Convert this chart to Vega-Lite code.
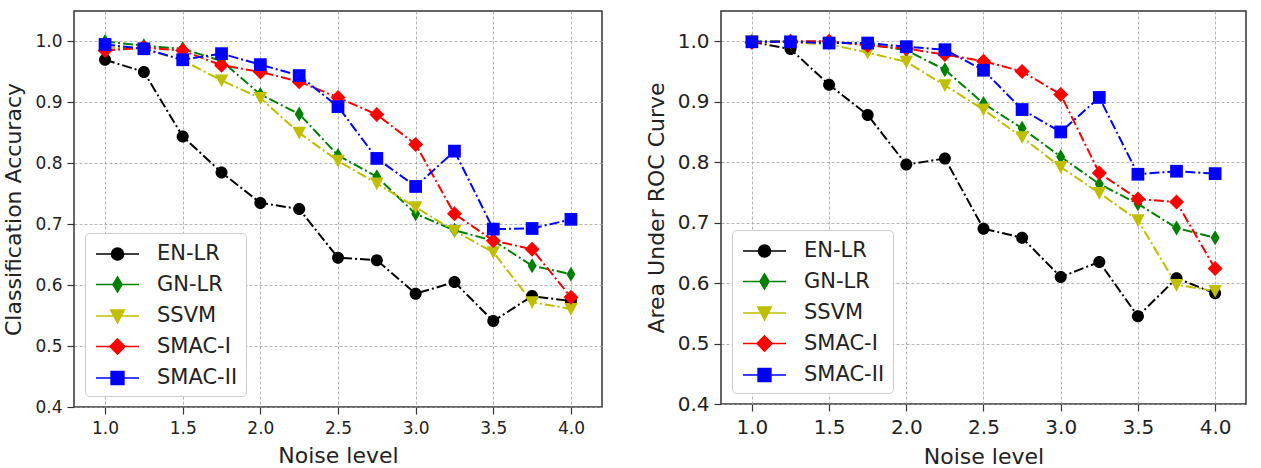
{
  "$schema": "https://vega.github.io/schema/vega-lite/v6.json",
  "background": "white",
  "padding": {"left": 2, "top": 10, "right": 0, "bottom": 0},
  "config": {
    "font": "DejaVu Sans",
    "view": {"stroke": "#333333", "strokeWidth": 1.5},
    "axis": {
      "domain": false, "grid": true, "gridColor": "#a0a0a0", "gridDash": [3, 2], "gridWidth": 0.8,
      "tickColor": "#333333", "tickSize": 7, "tickWidth": 1.2,
      "labelColor": "#222222", "titleColor": "#222222", "titleFontWeight": "normal",
      "labelFont": "DejaVu Sans", "titleFont": "DejaVu Sans"
    },
    "legend": {"orient": "bottom-left", "offset": 11, "padding": 8, "fillColor": "white", "strokeColor": "#cccccc", "cornerRadius": 4, "symbolSize": 576, "symbolStrokeWidth": 1.6, "labelFontSize": 21, "labelFont": "DejaVu Sans", "labelColor": "#222222", "labelOffset": 38, "rowPadding": 7.5}
  },
  "data": {"values": [
    {"m": "EN-LR", "n": 1.0, "acc": 0.970, "auc": 0.999},
    {"m": "EN-LR", "n": 1.25, "acc": 0.950, "auc": 0.987},
    {"m": "EN-LR", "n": 1.5, "acc": 0.844, "auc": 0.928},
    {"m": "EN-LR", "n": 1.75, "acc": 0.785, "auc": 0.878},
    {"m": "EN-LR", "n": 2.0, "acc": 0.735, "auc": 0.796},
    {"m": "EN-LR", "n": 2.25, "acc": 0.725, "auc": 0.806},
    {"m": "EN-LR", "n": 2.5, "acc": 0.645, "auc": 0.690},
    {"m": "EN-LR", "n": 2.75, "acc": 0.641, "auc": 0.675},
    {"m": "EN-LR", "n": 3.0, "acc": 0.586, "auc": 0.610},
    {"m": "EN-LR", "n": 3.25, "acc": 0.605, "auc": 0.635},
    {"m": "EN-LR", "n": 3.5, "acc": 0.541, "auc": 0.545},
    {"m": "EN-LR", "n": 3.75, "acc": 0.582, "auc": 0.608},
    {"m": "EN-LR", "n": 4.0, "acc": 0.574, "auc": 0.583},
    {"m": "GN-LR", "n": 1.0, "acc": 1.000, "auc": 1.000},
    {"m": "GN-LR", "n": 1.25, "acc": 0.993, "auc": 1.000},
    {"m": "GN-LR", "n": 1.5, "acc": 0.988, "auc": 0.999},
    {"m": "GN-LR", "n": 1.75, "acc": 0.968, "auc": 0.995},
    {"m": "GN-LR", "n": 2.0, "acc": 0.913, "auc": 0.985},
    {"m": "GN-LR", "n": 2.25, "acc": 0.881, "auc": 0.953},
    {"m": "GN-LR", "n": 2.5, "acc": 0.813, "auc": 0.897},
    {"m": "GN-LR", "n": 2.75, "acc": 0.778, "auc": 0.856},
    {"m": "GN-LR", "n": 3.0, "acc": 0.717, "auc": 0.809},
    {"m": "GN-LR", "n": 3.25, "acc": 0.690, "auc": 0.764},
    {"m": "GN-LR", "n": 3.5, "acc": 0.673, "auc": 0.731},
    {"m": "GN-LR", "n": 3.75, "acc": 0.632, "auc": 0.691},
    {"m": "GN-LR", "n": 4.0, "acc": 0.618, "auc": 0.675},
    {"m": "SSVM", "n": 1.0, "acc": 0.990, "auc": 1.000},
    {"m": "SSVM", "n": 1.25, "acc": 0.988, "auc": 0.998},
    {"m": "SSVM", "n": 1.5, "acc": 0.969, "auc": 0.995},
    {"m": "SSVM", "n": 1.75, "acc": 0.936, "auc": 0.981},
    {"m": "SSVM", "n": 2.0, "acc": 0.907, "auc": 0.966},
    {"m": "SSVM", "n": 2.25, "acc": 0.850, "auc": 0.927},
    {"m": "SSVM", "n": 2.5, "acc": 0.804, "auc": 0.887},
    {"m": "SSVM", "n": 2.75, "acc": 0.767, "auc": 0.841},
    {"m": "SSVM", "n": 3.0, "acc": 0.728, "auc": 0.792},
    {"m": "SSVM", "n": 3.25, "acc": 0.689, "auc": 0.749},
    {"m": "SSVM", "n": 3.5, "acc": 0.654, "auc": 0.704},
    {"m": "SSVM", "n": 3.75, "acc": 0.572, "auc": 0.597},
    {"m": "SSVM", "n": 4.0, "acc": 0.561, "auc": 0.587},
    {"m": "SMAC-I", "n": 1.0, "acc": 0.985, "auc": 0.998},
    {"m": "SMAC-I", "n": 1.25, "acc": 0.990, "auc": 1.000},
    {"m": "SMAC-I", "n": 1.5, "acc": 0.985, "auc": 1.000},
    {"m": "SMAC-I", "n": 1.75, "acc": 0.961, "auc": 0.993},
    {"m": "SMAC-I", "n": 2.0, "acc": 0.950, "auc": 0.988},
    {"m": "SMAC-I", "n": 2.25, "acc": 0.934, "auc": 0.978},
    {"m": "SMAC-I", "n": 2.5, "acc": 0.908, "auc": 0.967},
    {"m": "SMAC-I", "n": 2.75, "acc": 0.880, "auc": 0.950},
    {"m": "SMAC-I", "n": 3.0, "acc": 0.831, "auc": 0.912},
    {"m": "SMAC-I", "n": 3.25, "acc": 0.717, "auc": 0.782},
    {"m": "SMAC-I", "n": 3.5, "acc": 0.673, "auc": 0.739},
    {"m": "SMAC-I", "n": 3.75, "acc": 0.659, "auc": 0.734},
    {"m": "SMAC-I", "n": 4.0, "acc": 0.580, "auc": 0.624},
    {"m": "SMAC-II", "n": 1.0, "acc": 0.995, "auc": 0.999},
    {"m": "SMAC-II", "n": 1.25, "acc": 0.988, "auc": 0.999},
    {"m": "SMAC-II", "n": 1.5, "acc": 0.970, "auc": 0.997},
    {"m": "SMAC-II", "n": 1.75, "acc": 0.980, "auc": 0.997},
    {"m": "SMAC-II", "n": 2.0, "acc": 0.962, "auc": 0.991},
    {"m": "SMAC-II", "n": 2.25, "acc": 0.944, "auc": 0.986},
    {"m": "SMAC-II", "n": 2.5, "acc": 0.893, "auc": 0.952},
    {"m": "SMAC-II", "n": 2.75, "acc": 0.808, "auc": 0.887},
    {"m": "SMAC-II", "n": 3.0, "acc": 0.762, "auc": 0.850},
    {"m": "SMAC-II", "n": 3.25, "acc": 0.820, "auc": 0.907},
    {"m": "SMAC-II", "n": 3.5, "acc": 0.692, "auc": 0.780},
    {"m": "SMAC-II", "n": 3.75, "acc": 0.693, "auc": 0.785},
    {"m": "SMAC-II", "n": 4.0, "acc": 0.708, "auc": 0.781}
  ]},
  "spacing": 119,
  "bounds": "flush",
  "resolve": {"scale": {"color": "independent", "fill": "independent", "stroke": "independent", "shape": "independent", "x": "independent", "y": "independent"}, "legend": {"color": "independent", "fill": "independent", "stroke": "independent", "shape": "independent"}},
  "hconcat": [
    {
      "width": 528, "height": 396,
      "encoding": {
        "x": {"field": "n", "type": "quantitative", "scale": {"domain": [0.8, 4.2], "nice": false, "zero": false},
              "axis": {"title": "Noise level", "values": [1, 1.5, 2, 2.5, 3, 3.5, 4], "format": ".1f", "labelFontSize": 17, "titleFontSize": 22, "labelPadding": 6, "titlePadding": 9}},
        "y": {"field": "acc", "type": "quantitative", "scale": {"domain": [0.4, 1.05], "nice": false, "zero": false},
              "axis": {"title": "Classification Accuracy", "values": [0.4, 0.5, 0.6, 0.7, 0.8, 0.9, 1.0], "format": ".1f", "labelFontSize": 17, "titleFontSize": 22, "labelPadding": 5, "titlePadding": 9}}
      },
      "layer": [
        {
          "mark": {"type": "line", "strokeWidth": 2, "strokeDash": [10, 3, 2, 3]},
          "encoding": {
            "color": {"field": "m", "type": "nominal", "scale": {"range": ["#000000", "#008000", "#ff0000", "#0000ff", "#bfbf00"]}, "legend": null},
            "detail": {"field": "m"}
          }
        },
        {"transform": [{"filter": "datum.m === 'EN-LR'"}], "mark": {"type": "point", "shape": "M-0.8,0A0.8,0.8,0,1,1,0.8,0A0.8,0.8,0,1,1,-0.8,0Z", "filled": true, "opacity": 1, "size": 225}, "encoding": {"color": {"field": "m", "type": "nominal", "legend": null}}},
        {"transform": [{"filter": "datum.m === 'GN-LR'"}], "mark": {"type": "point", "shape": "M0,-1L0.6,0L0,1L-0.6,0Z", "filled": true, "opacity": 1, "size": 225}, "encoding": {"color": {"field": "m", "type": "nominal", "legend": null}}},
        {"transform": [{"filter": "datum.m === 'SSVM'"}], "mark": {"type": "point", "shape": "M-0.9,-0.8L0.9,-0.8L0,0.9Z", "filled": true, "opacity": 1, "size": 225}, "encoding": {"color": {"field": "m", "type": "nominal", "legend": null}}},
        {"transform": [{"filter": "datum.m === 'SMAC-I'"}], "mark": {"type": "point", "shape": "M0,-1L1,0L0,1L-1,0Z", "filled": true, "opacity": 1, "size": 225}, "encoding": {"color": {"field": "m", "type": "nominal", "legend": null}}},
        {"transform": [{"filter": "datum.m === 'SMAC-II'"}], "mark": {"type": "point", "shape": "M-0.85,-0.85L0.85,-0.85L0.85,0.85L-0.85,0.85Z", "filled": true, "opacity": 1, "size": 225}, "encoding": {"color": {"field": "m", "type": "nominal", "legend": null}}},
        {
          "transform": [{"filter": "datum.n > 99"}],
          "mark": {"type": "point", "filled": true, "opacity": 1},
          "encoding": {
            "fill": {"field": "m", "type": "nominal", "scale": {"domain": ["EN-LR", "GN-LR", "SSVM", "SMAC-I", "SMAC-II"], "range": ["#000000", "#008000", "#bfbf00", "#ff0000", "#0000ff"]}, "legend": {"title": null}},
            "stroke": {"field": "m", "type": "nominal", "scale": {"domain": ["EN-LR", "GN-LR", "SSVM", "SMAC-I", "SMAC-II"], "range": ["#000000", "#008000", "#bfbf00", "#ff0000", "#0000ff"]}, "legend": {"title": null}},
            "shape": {"field": "m", "type": "nominal", "scale": {"domain": ["EN-LR", "GN-LR", "SSVM", "SMAC-I", "SMAC-II"], "range": ["M-0.833,0L2.75,0M0.458,0A0.5,0.5,0,1,1,1.458,0A0.5,0.5,0,1,1,0.458,0Z", "M-0.833,0L2.75,0M0.958,-0.625L1.333,0L0.958,0.625L0.583,0Z", "M-0.833,0L2.75,0M0.396,-0.5L1.521,-0.5L0.958,0.563Z", "M-0.833,0L2.75,0M0.958,-0.625L1.583,0L0.958,0.625L0.333,0Z", "M-0.833,0L2.75,0M0.427,-0.531L1.489,-0.531L1.489,0.531L0.427,0.531Z"]}, "legend": {"title": null}}
          }
        }
      ]
    },
    {
      "width": 525, "height": 393,
      "encoding": {
        "x": {"field": "n", "type": "quantitative", "scale": {"domain": [0.8, 4.2], "nice": false, "zero": false},
              "axis": {"title": "Noise level", "values": [1, 1.5, 2, 2.5, 3, 3.5, 4], "format": ".1f", "labelFontSize": 20, "titleFontSize": 22, "labelPadding": 6, "titlePadding": 9}},
        "y": {"field": "auc", "type": "quantitative", "scale": {"domain": [0.4, 1.05], "nice": false, "zero": false},
              "axis": {"title": "Area Under ROC Curve", "values": [0.4, 0.5, 0.6, 0.7, 0.8, 0.9, 1.0], "format": ".1f", "labelFontSize": 20, "titleFontSize": 22, "labelPadding": 5, "titlePadding": 9}}
      },
      "layer": [
        {
          "mark": {"type": "line", "strokeWidth": 2, "strokeDash": [10, 3, 2, 3]},
          "encoding": {
            "color": {"field": "m", "type": "nominal", "scale": {"range": ["#000000", "#008000", "#ff0000", "#0000ff", "#bfbf00"]}, "legend": null},
            "detail": {"field": "m"}
          }
        },
        {"transform": [{"filter": "datum.m === 'EN-LR'"}], "mark": {"type": "point", "shape": "M-0.8,0A0.8,0.8,0,1,1,0.8,0A0.8,0.8,0,1,1,-0.8,0Z", "filled": true, "opacity": 1, "size": 225}, "encoding": {"color": {"field": "m", "type": "nominal", "legend": null}}},
        {"transform": [{"filter": "datum.m === 'GN-LR'"}], "mark": {"type": "point", "shape": "M0,-1L0.6,0L0,1L-0.6,0Z", "filled": true, "opacity": 1, "size": 225}, "encoding": {"color": {"field": "m", "type": "nominal", "legend": null}}},
        {"transform": [{"filter": "datum.m === 'SSVM'"}], "mark": {"type": "point", "shape": "M-0.9,-0.8L0.9,-0.8L0,0.9Z", "filled": true, "opacity": 1, "size": 225}, "encoding": {"color": {"field": "m", "type": "nominal", "legend": null}}},
        {"transform": [{"filter": "datum.m === 'SMAC-I'"}], "mark": {"type": "point", "shape": "M0,-1L1,0L0,1L-1,0Z", "filled": true, "opacity": 1, "size": 225}, "encoding": {"color": {"field": "m", "type": "nominal", "legend": null}}},
        {"transform": [{"filter": "datum.m === 'SMAC-II'"}], "mark": {"type": "point", "shape": "M-0.85,-0.85L0.85,-0.85L0.85,0.85L-0.85,0.85Z", "filled": true, "opacity": 1, "size": 225}, "encoding": {"color": {"field": "m", "type": "nominal", "legend": null}}},
        {
          "transform": [{"filter": "datum.n > 99"}],
          "mark": {"type": "point", "filled": true, "opacity": 1},
          "encoding": {
            "fill": {"field": "m", "type": "nominal", "scale": {"domain": ["EN-LR", "GN-LR", "SSVM", "SMAC-I", "SMAC-II"], "range": ["#000000", "#008000", "#bfbf00", "#ff0000", "#0000ff"]}, "legend": {"title": null}},
            "stroke": {"field": "m", "type": "nominal", "scale": {"domain": ["EN-LR", "GN-LR", "SSVM", "SMAC-I", "SMAC-II"], "range": ["#000000", "#008000", "#bfbf00", "#ff0000", "#0000ff"]}, "legend": {"title": null}},
            "shape": {"field": "m", "type": "nominal", "scale": {"domain": ["EN-LR", "GN-LR", "SSVM", "SMAC-I", "SMAC-II"], "range": ["M-0.833,0L2.75,0M0.458,0A0.5,0.5,0,1,1,1.458,0A0.5,0.5,0,1,1,0.458,0Z", "M-0.833,0L2.75,0M0.958,-0.625L1.333,0L0.958,0.625L0.583,0Z", "M-0.833,0L2.75,0M0.396,-0.5L1.521,-0.5L0.958,0.563Z", "M-0.833,0L2.75,0M0.958,-0.625L1.583,0L0.958,0.625L0.333,0Z", "M-0.833,0L2.75,0M0.427,-0.531L1.489,-0.531L1.489,0.531L0.427,0.531Z"]}, "legend": {"title": null}}
          }
        }
      ]
    }
  ]
}
